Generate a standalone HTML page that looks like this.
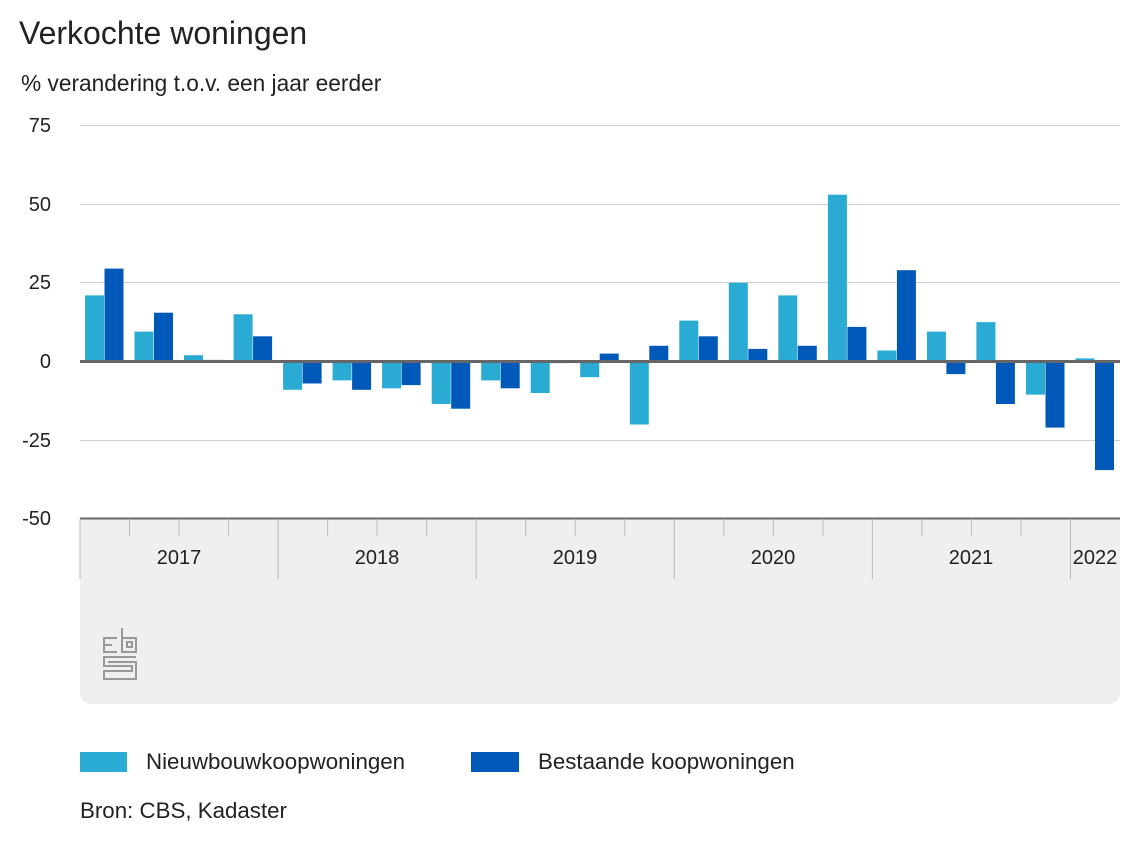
<!DOCTYPE html>
<html><head><meta charset="utf-8"><style>
body{margin:0;background:#fff;width:1140px;height:857px;overflow:hidden;font-family:"Liberation Sans",Arial,sans-serif}
</style></head><body>
<svg id="s" width="1140" height="857" xmlns="http://www.w3.org/2000/svg" font-family="Liberation Sans, Arial, sans-serif">
<text x="19" y="44" font-size="32" fill="#222">Verkochte woningen</text>
<text x="21" y="91" font-size="22.7" fill="#222">% verandering t.o.v. een jaar eerder</text>
<path d="M80 518 H1120 V692 Q1120 704 1108 704 H92 Q80 704 80 692 Z" fill="#efefef"/>
<g font-size="20" fill="#222" text-anchor="end">
<text x="51" y="132">75</text><text x="51" y="211">50</text><text x="51" y="289">25</text>
<text x="51" y="368">0</text><text x="51" y="447">-25</text><text x="51" y="525">-50</text>
</g>
<g stroke="#cfcfcf" stroke-width="1">
<line x1="80" x2="1120" y1="125.5" y2="125.5"/><line x1="80" x2="1120" y1="204.5" y2="204.5"/>
<line x1="80" x2="1120" y1="282.5" y2="282.5"/><line x1="80" x2="1120" y1="440.5" y2="440.5"/>
</g>
<g id="bars"></g>
<line x1="80" x2="1120" y1="361.5" y2="361.5" stroke="#666" stroke-width="3"/>
<line x1="80" x2="1120" y1="518.5" y2="518.5" stroke="#666" stroke-width="2"/>
<g id="ticks" stroke="#bbb" stroke-width="1"></g>
<g font-size="20" fill="#222" text-anchor="middle">
<text x="179" y="564">2017</text><text x="377" y="564">2018</text><text x="575" y="564">2019</text>
<text x="773" y="564">2020</text><text x="971" y="564">2021</text><text x="1095" y="564">2022</text>
</g>
<g fill="none" stroke="#999" stroke-width="2">
<path d="M117 638 H104 V652 H117 M104 645 H112"/>
<path d="M122 628 V652 H136 V638 H122"/>
<rect x="127" y="642" width="5" height="5"/>
<path d="M136 657 H104 V666 H132 V671 H104 V679 H136 V662 H108"/>
</g>
<rect x="80" y="752" width="47" height="20" fill="#29abd4"/>
<text x="146" y="769" font-size="22.3" fill="#222">Nieuwbouwkoopwoningen</text>
<rect x="471" y="752" width="48" height="20" fill="#0058b8"/>
<text x="538" y="769" font-size="22.3" fill="#222">Bestaande koopwoningen</text>
<text x="80" y="818" font-size="22.3" fill="#222">Bron: CBS, Kadaster</text>
</svg>
<script>
var d=[[21,29.5],[9.5,15.5],[2,0.5],[15,8],[-9,-7],[-6,-9],[-8.5,-7.5],[-13.5,-15],[-6,-8.5],[-10,-0.5],[-5,2.5],[-20,5],[13,8],[25,4],[21,5],[53,11],[3.5,29],[9.5,-4],[12.5,-13.5],[-10.5,-21],[1,-34.5]];
var w=1040/21,k=78.7/25,z=361.5,h='',t='';
d.forEach(function(v,i){var x=80+i*w+5;
[['#29abd4',v[0],x],['#0058b8',v[1],x+19.5]].forEach(function(b){var y=b[1]>=0?z-b[1]*k:z;h+='<rect x="'+b[2].toFixed(1)+'" y="'+y.toFixed(1)+'" width="19" height="'+Math.abs(b[1]*k).toFixed(1)+'" fill="'+b[0]+'"/>';});
var tx=(80+i*w).toFixed(1);t+='<line x1="'+tx+'" x2="'+tx+'" y1="519" y2="'+(i%4==0?579:536)+'"/>';});
document.getElementById('bars').innerHTML=h;document.getElementById('ticks').innerHTML=t;
</script>
</body></html>
